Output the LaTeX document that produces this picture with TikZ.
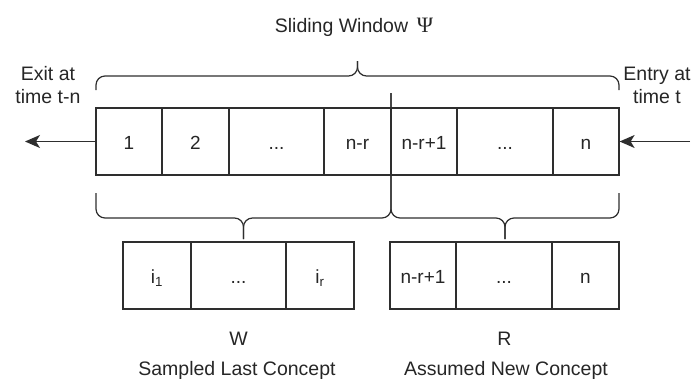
\documentclass[tikz,border=0pt]{standalone}
\usepackage{fontspec}
\setmainfont{Liberation Sans}
\newfontfamily\greekserif{Liberation Serif}
\usetikzlibrary{arrows.meta,calc}
\begin{document}
\begin{tikzpicture}[x=1pt,y=-1pt,
  ink/.style={draw=black!82, line width=1.25pt},
  cell/.style={ink, rectangle, minimum height=67pt, inner sep=0pt,
    text height=16.5pt, text depth=0pt, text=black!85,
    font=\fontsize{19}{22}\selectfont},
  lbl/.style={text=black!85, font=\fontsize{19.5}{23}\selectfont,
    inner sep=0pt, align=center, anchor=base},
  brace/.style={ink, rounded corners=9pt},
  flow/.style={ink, -{Stealth[length=15pt,width=13pt,inset=4pt]}}]
\useasboundingbox (0,0) rectangle (697,378);

% the sliding window, oldest element on the left
\node[cell, minimum width=66pt] (c1) at (129,141.5) {1};
\node[cell, minimum width=67pt] (c2) at (195.5,141.5) {2};
\node[cell, minimum width=95pt] (c3) at (276.5,141.5) {...};
\node[cell, minimum width=67pt] (c4) at (357.5,141.5) {n-r};
\node[cell, minimum width=66pt] (c5) at (424,141.5) {n-r+1};
\node[cell, minimum width=96pt] (c6) at (505,141.5) {...};
\node[cell, minimum width=66pt] (c7) at (586,141.5) {n};

% sampled last concept W
\node[cell, minimum width=68pt] (w1) at (157,275.5) {i\textsubscript{1}};
\node[cell, minimum width=95pt] (w2) at (238.5,275.5) {...};
\node[cell, minimum width=68pt] (w3) at (320,275.5) {i\textsubscript{r}};

% assumed new concept R
\node[cell, minimum width=66pt] (r1) at (423,275.5) {n-r+1};
\node[cell, minimum width=96pt] (r2) at (504,275.5) {...};
\node[cell, minimum width=67pt] (r3) at (585.5,275.5) {n};

% labels
\node[lbl] (title) at (354,32) {Sliding Window \,{\greekserif\fontsize{22}{22}\selectfont Ψ}};
\node[lbl] (exit) at (48,103) {Exit at\\time t-n};
\node[lbl] (entry) at (657,103) {Entry at\\time t};
\node[lbl] (wname) at (238.5,345) {W};
\node[lbl] (rname) at (504.5,345) {R};
\node[lbl] (wdesc) at (237,375) {Sampled Last Concept};
\node[lbl] (rdesc) at (506,375) {Assumed New Concept};

% elements leaving and entering the window
\coordinate (out) at (25,141.5);
\coordinate (in) at (690,141.5);
\draw[flow] (c1.west) -- (out);
\draw[flow] (in) -- (c7.east);

% brace over the whole window
\draw[brace] (96,90) -- (96,76) -- (357.5,76) -- (357.5,61);
\draw[brace] (619,90) -- (619,76) -- (357.5,76) -- (357.5,61);

% braces splitting the window into W and R
\draw[brace] (96,193) -- (96,218) -- (243.5,218) -- (243.5,239);
\draw[brace] (391,93) -- (391,218) -- (243.5,218) -- (243.5,239);
\draw[brace] (391,93) -- (391,218) -- (505,218) -- (505,239);
\draw[brace] (619,193) -- (619,218) -- (505,218) -- (505,239);
\end{tikzpicture}
\end{document}
